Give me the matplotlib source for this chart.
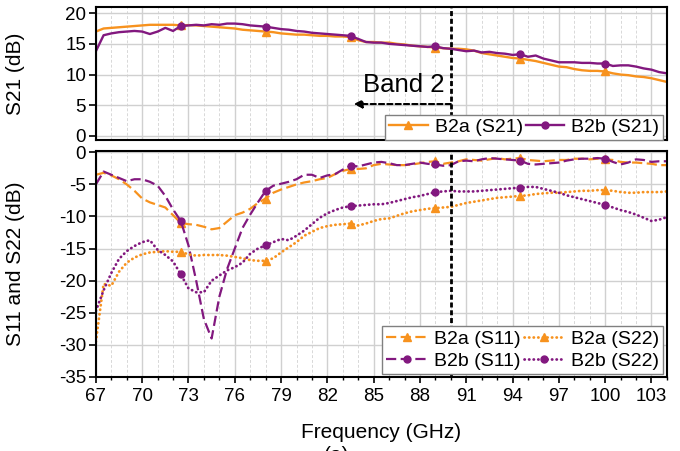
import numpy as np
import matplotlib.pyplot as plt
from matplotlib.lines import Line2D

plt.rcParams['font.family'] = ['Liberation Sans', 'DejaVu Sans']
plt.rcParams['axes.unicode_minus'] = False

# frequency grid (GHz), one point every 0.5 GHz
freq = np.arange(67, 104.01, 0.5)
marker_freqs = [72.5, 78, 83.5, 89, 94.5, 100]

# S21 (dB)
s21_b2a = [17.0, 17.5, 17.6, 17.7, 17.8, 17.9, 18.0, 18.1, 18.1, 18.1,
           18.1, 18.0, 18.05, 18.0, 17.9, 17.8, 17.7, 17.6, 17.5, 17.3,
           17.2, 17.1, 17.0, 16.9, 16.7, 16.6, 16.5, 16.5, 16.4, 16.3,
           16.3, 16.2, 16.2, 16.1, 15.6, 15.3, 15.3, 15.2, 15.2, 15.0,
           14.9, 14.7, 14.6, 14.5, 14.4, 14.3, 14.2, 14.2, 14.1, 13.9,
           13.5, 13.3, 13.1, 12.9, 12.7, 12.6, 12.4, 12.2, 11.9, 11.6,
           11.3, 11.2, 10.9, 10.7, 10.6, 10.6, 10.5, 10.2, 10.0, 9.9,
           9.7, 9.6, 9.4, 9.1, 8.8]
s21_b2b = [13.8, 16.4, 16.7, 16.9, 17.0, 17.1, 17.0, 16.6, 17.0, 17.6,
           17.1, 17.9, 18.0, 18.1, 18.0, 18.2, 18.1, 18.3, 18.3, 18.2,
           18.0, 17.9, 17.8, 17.6, 17.4, 17.3, 17.1, 17.0, 16.8, 16.7,
           16.6, 16.5, 16.4, 16.3, 15.8, 15.3, 15.2, 15.2, 15.0, 14.9,
           14.8, 14.7, 14.6, 14.5, 14.6, 14.3, 14.2, 14.0, 13.8, 13.9,
           13.6, 13.7, 13.5, 13.4, 13.2, 13.3, 12.9, 13.1, 12.6, 12.3,
           12.0, 12.0, 12.0, 11.9, 11.9, 11.8, 11.8, 11.4, 11.5, 11.5,
           11.3, 11.0, 10.8, 10.4, 10.2]

# S11 and S22 (dB)
s11_b2a = [-3.5, -3.2, -3.6, -4.2, -5.0, -6.0, -7.2, -7.8, -8.2, -8.6,
           -9.8, -11.0, -11.2, -11.3, -11.6, -12.0, -11.8, -10.8, -9.8, -9.4,
           -8.8, -7.9, -7.2, -6.3, -5.8, -5.4, -5.0, -4.7, -4.5, -4.2,
           -4.0, -3.4, -2.9, -2.6, -2.6, -2.5, -2.0, -1.8, -1.9, -2.0,
           -2.0, -1.9, -1.7, -1.5, -1.4, -1.8, -1.6, -1.4, -1.1, -1.2,
           -1.3, -1.1, -0.9, -1.1, -1.0, -0.9, -1.2, -1.3, -1.4, -1.3,
           -1.2, -1.2, -1.0, -1.0, -1.1, -1.0, -1.1, -1.2, -1.5, -1.6,
           -1.6, -1.7, -1.8, -2.0, -2.0]
s11_b2b = [-5.0, -3.0, -3.5, -4.0, -4.5, -4.2, -4.2, -4.6, -5.2, -6.8,
           -8.9, -10.7, -14.5, -20.0, -26.0, -29.0, -22.5, -18.2, -15.0, -11.8,
           -9.7, -7.8, -6.0, -5.2, -4.9, -4.6, -4.2, -3.5, -3.5, -4.0,
           -3.6, -3.4, -2.7, -2.1, -2.2, -1.9, -1.6, -1.5, -1.7, -2.0,
           -2.0, -1.8, -1.6, -1.8, -1.9, -2.1, -2.0, -1.4, -1.3, -1.4,
           -1.1, -0.9, -1.0, -1.1, -1.2, -1.3, -1.8, -1.9, -1.8, -1.7,
           -1.6, -1.3, -1.1, -1.0, -1.0, -0.9, -1.0, -1.5, -1.9, -1.6,
           -1.1, -1.2, -1.5, -1.4, -1.4]
s22_b2a = [-29.5, -20.5, -20.8, -18.6, -17.2, -16.4, -15.9, -15.6, -15.5, -15.4,
           -15.5, -15.5, -15.9, -16.1, -16.0, -16.0, -16.0, -16.1, -16.3, -16.5,
           -16.8, -16.9, -16.9, -16.5, -15.6, -14.8, -14.0, -13.0, -12.4, -11.8,
           -11.5, -11.3, -11.2, -11.1, -11.4, -11.1, -10.7, -10.4, -10.3, -9.9,
           -9.5, -9.2, -9.0, -8.8, -8.7, -8.6, -8.5, -8.2, -7.9, -7.7,
           -7.5, -7.3, -7.1, -7.0, -6.9, -6.8, -6.7, -6.5, -6.4, -6.3,
           -6.3, -6.2, -6.1, -6.0, -6.0, -5.9, -5.9, -6.0, -6.2, -6.3,
           -6.3, -6.2, -6.2, -6.2, -6.1]
s22_b2b = [-24.7, -21.5, -18.8, -16.6, -15.4, -14.6, -14.0, -13.7, -15.2, -16.0,
           -17.0, -19.0, -21.2, -21.8, -21.8, -20.0, -19.2, -18.4, -17.9, -17.2,
           -15.8, -15.0, -14.5, -14.0, -13.5, -13.7, -13.0, -12.2, -11.2, -10.2,
           -9.5, -9.0, -8.6, -8.4, -8.3, -8.2, -8.1, -8.1, -7.9, -7.6,
           -7.3, -7.0, -6.8, -6.5, -6.2, -6.1, -6.0, -6.1, -6.1, -6.1,
           -6.0, -5.9, -5.8, -5.7, -5.6, -5.5, -5.4, -5.4, -5.7, -6.0,
           -6.3, -6.7, -7.0, -7.3, -7.6, -7.9, -8.2, -8.6, -9.0, -9.3,
           -9.7, -10.2, -10.7, -10.5, -10.1]

orange = '#F7921E'
purple = '#82187F'
dash = (0, (4.6, 2.0))
dot = (0, (0.1, 1.55))

# indices where the markers sit
mk = [int(np.argmin(np.abs(freq - f))) for f in marker_freqs]

fig = plt.figure(figsize=(6.8, 4.51), dpi=100)
ax1 = fig.add_axes([0.141, 0.6896, 0.8397, 0.2949])
ax2 = fig.add_axes([0.141, 0.1641, 0.8397, 0.5011])


def style_axis(ax):
    ax.set_xlim(67, 104)
    ax.set_xticks(np.arange(67, 104, 3))
    ax.set_xticks(np.arange(67, 105, 1), minor=True)
    ax.grid(which='major', color='#d0d0d0', lw=1.0)
    ax.grid(which='minor', axis='x', color='#d8d8d8', lw=0.7, ls=(0, (3, 2)))
    ax.set_axisbelow(True)
    for s in ax.spines.values():
        s.set_linewidth(1.5)
    ax.tick_params(axis='y', which='major', direction='out', length=5, width=1.2,
                   pad=2, labelsize=13.5)
    ax.tick_params(axis='x', which='major', direction='out', length=4.5, width=1.2,
                   labelsize=13.5)
    ax.tick_params(axis='x', which='minor', direction='out', length=2.5, width=1.0)


# ---- top panel: S21
style_axis(ax1)
ax1.plot(freq, s21_b2a, color=orange, lw=1.7, marker='^', ms=6, markevery=mk)
ax1.plot(freq, s21_b2b, color=purple, lw=1.7, marker='o', ms=5, markevery=mk)
ax1.set_ylim(-0.65, 21)
ax1.set_yticks([0, 5, 10, 15, 20])
ax1.tick_params(axis='x', which='both', bottom=False, labelbottom=False)
ax1.axvline(90, color='k', lw=2, ls=(0, (1.8, 1.0)), zorder=3)
ax1.annotate('', xy=(83.7, 5.2), xytext=(90, 5.2),
             arrowprops=dict(arrowstyle='-|>', color='k', lw=1.5, ls=(0, (2.5, 1.5)),
                             mutation_scale=12, shrinkA=0, shrinkB=0))
ax1.text(89.6, 8.3, 'Band 2', ha='right', va='center', fontsize=18.5)
ax1.set_ylabel('S21 (dB)', fontsize=15)
ax1.yaxis.set_label_coords(-0.124, 0.5)

h1 = [Line2D([], [], color=orange, lw=1.7, marker='^', ms=6),
      Line2D([], [], color=purple, lw=1.7, marker='o', ms=5)]
leg1 = ax1.legend(h1, ['B2a (S21)', 'B2b (S21)'], ncol=2, loc='lower right',
                  bbox_to_anchor=(0.9935, 0.0), borderaxespad=0, fontsize=14,
                  handlelength=2.0, handletextpad=0.35, columnspacing=0.15,
                  borderpad=0.2, fancybox=False, framealpha=1, edgecolor='#808080')
leg1.get_frame().set_linewidth(1.0)

# ---- bottom panel: S11 and S22
style_axis(ax2)
ax2.plot(freq, s11_b2a, color=orange, lw=1.6, ls=dash, marker='^', ms=6, markevery=mk)
ax2.plot(freq, s11_b2b, color=purple, lw=1.6, ls=dash, marker='o', ms=5, markevery=mk)
ax2.plot(freq, s22_b2a, color=orange, lw=2.0, ls=dot, dash_capstyle='round',
         marker='^', ms=6, markevery=mk)
ax2.plot(freq, s22_b2b, color=purple, lw=2.0, ls=dot, dash_capstyle='round',
         marker='o', ms=5, markevery=mk)
ax2.set_ylim(-35, 0.2)
ax2.set_yticks(np.arange(-35, 1, 5))
ax2.axvline(90, color='k', lw=2, ls=(0, (1.8, 1.0)), zorder=3)
ax2.set_ylabel('S11 and S22 (dB)', fontsize=15)
ax2.yaxis.set_label_coords(-0.124, 0.5)
ax2.set_xlabel('Frequency (GHz)', fontsize=15)
ax2.xaxis.set_label_coords(0.5, -0.2035)

h2 = [Line2D([], [], color=orange, lw=1.6, ls=dash, marker='^', ms=6),
      Line2D([], [], color=purple, lw=1.6, ls=dash, marker='o', ms=5),
      Line2D([], [], color=orange, lw=2.0, ls=dot, dash_capstyle='round', marker='^', ms=6),
      Line2D([], [], color=purple, lw=2.0, ls=dot, dash_capstyle='round', marker='o', ms=5)]
leg2 = ax2.legend(h2, ['B2a (S11)', 'B2b (S11)', 'B2a (S22)', 'B2b (S22)'], ncol=2,
                  loc='lower right', bbox_to_anchor=(0.9935, 0.013), borderaxespad=0,
                  fontsize=14, handlelength=2.1, handletextpad=0.35, columnspacing=0.15,
                  borderpad=0.2, labelspacing=0.25, fancybox=False, framealpha=1,
                  edgecolor='#808080')
leg2.get_frame().set_linewidth(1.0)

# caption, cut by the lower edge as in the original figure
fig.text(0.495, 0.011, '(a)', ha='center', va='top', fontsize=15)

plt.savefig('out.png', dpi=100)
